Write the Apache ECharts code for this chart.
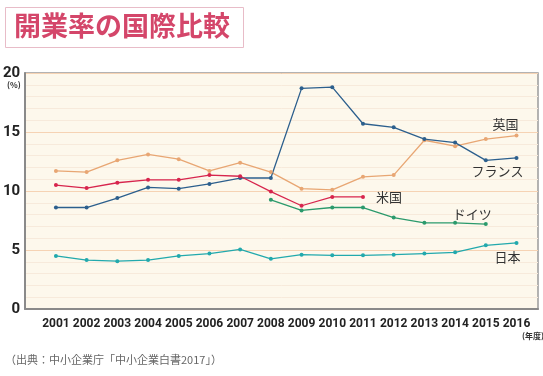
<!DOCTYPE html>
<html>
<head>
<meta charset="utf-8">
<script src="https://cdn.jsdelivr.net/npm/echarts@6/dist/echarts.min.js"></script>
<style>
  html, body { margin: 0; padding: 0; background: #fff; }
  #main { width: 543px; height: 376px; }
</style>
</head>
<body>
<div id="main"></div>
<script>
// 年度
var years = [2001, 2002, 2003, 2004, 2005, 2006, 2007, 2008, 2009, 2010, 2011, 2012, 2013, 2014, 2015, 2016]
// 開業率 (%)
var uk = [11.7, 11.6, 12.6, 13.1, 12.7, 11.7, 12.4, 11.6, 10.2, 10.1, 11.2, 11.35, 14.3, 13.8, 14.4, 14.7]
var france = [8.6, 8.6, 9.4, 10.3, 10.2, 10.6, 11.1, 11.1, 18.7, 18.8, 15.7, 15.4, 14.4, 14.1, 12.6, 12.8]
var usa = [10.5, 10.25, 10.7, 10.95, 10.95, 11.35, 11.25, 9.95, 8.75, 9.5, 9.5]
var germany = [null, null, null, null, null, null, null, 9.25, 8.35, 8.6, 8.6, 7.75, 7.3, 7.3, 7.2]
var japan = [4.5, 4.15, 4.05, 4.15, 4.5, 4.7, 5.05, 4.25, 4.6, 4.55, 4.55, 4.6, 4.7, 4.8, 5.4, 5.6]
var yTicks = [0, 5, 10, 15, 20]

var num = 'Roboto, "Liberation Sans", sans-serif'
var jp = '"Noto Sans CJK JP", sans-serif'

function pairs(arr) {
	var out = []
	for (var i = 0; i < arr.length; i++) {
		out.push([years[i], arr[i]])
	}
	return out
}

function makeSeries(name, data, color, offset) {
	return {
		name: name,
		type: 'line',
		data: pairs(data),
		symbol: 'circle',
		symbolSize: 4,
		connectNulls: false,
		lineStyle: { color: color, width: 1.3 },
		itemStyle: { color: color },
		endLabel: {
			show: true,
			formatter: name,
			distance: 5,
			offset: offset,
			color: '#333',
			fontSize: 13,
			fontFamily: jp
		},
		emphasis: { disabled: true },
		animation: false
	}
}

var myChart = echarts.init(document.getElementById('main'), null, { renderer: 'canvas' })
var option = {
	backgroundColor: '#fff',
	animation: false,
	grid: {
		left: 21,
		top: 73,
		right: 5,
		bottom: 67,
		show: true,
		backgroundColor: '#fdf8ec',
		borderColor: '#9a9a9a',
		borderWidth: 1.5
	},
	xAxis: {
		type: 'value',
		min: 2000,
		max: 2016.7,
		interval: 1,
		axisLine: { show: true, lineStyle: { color: '#8a8a8a', width: 2 } },
		axisTick: { show: false },
		splitLine: { show: false },
		axisLabel: {
			showMinLabel: false,
			showMaxLabel: false,
			margin: 9,
			color: '#222',
			fontWeight: 'bold',
			fontSize: 12,
			fontFamily: num,
			formatter: function(v) {
				return years.indexOf(v) >= 0 ? String(v) : ''
			}
		}
	},
	yAxis: {
		type: 'value',
		min: yTicks[0],
		max: yTicks[yTicks.length - 1],
		interval: 5,
		axisLine: { show: true, lineStyle: { color: '#8a8a8a', width: 2 } },
		axisTick: { show: false },
		axisLabel: {
			margin: 5,
			color: '#222',
			fontWeight: 'bold',
			fontSize: 15,
			fontFamily: num
		},
		splitLine: { show: true, lineStyle: { color: '#f6d3b4', width: 1 } },
		minorTick: { show: false, splitNumber: 5 },
		minorSplitLine: { show: true, lineStyle: { color: '#f7eadb', width: 1 } }
	},
	series: [
		makeSeries('英国', uk, '#e8a673', [-29, -11]),
		makeSeries('フランス', france, '#2c5f8d', [-50, 13]),
		makeSeries('米国', usa, '#d7254d', [8, 0]),
		makeSeries('ドイツ', germany, '#2b9a6c', [-38, -10]),
		makeSeries('日本', japan, '#22a9ad', [-27, 14])
	],
	graphic: [
		{
			type: 'rect',
			left: 5,
			top: 7,
			shape: { width: 238, height: 40 },
			style: { fill: '#fff', stroke: '#e8bcc8', lineWidth: 1 }
		},
		{
			type: 'text',
			left: 14,
			top: 12,
			style: { text: '開業率の国際比較', fill: '#d4466a', font: 'bold 27px ' + jp }
		},
		{
			type: 'text',
			left: 7,
			top: 81,
			style: { text: '(%)', fill: '#333', font: 'bold 8px ' + jp }
		},
		{
			type: 'text',
			left: 522,
			top: 332,
			style: { text: '(年度)', fill: '#333', font: 'bold 8px ' + jp }
		},
		{
			type: 'text',
			left: 5,
			top: 354,
			style: { text: '（出典：中小企業庁「中小企業白書2017」）', fill: '#666', font: '11px ' + jp }
		}
	]
}
myChart.setOption(option)
myChart.resize()
</script>
</body>
</html>
